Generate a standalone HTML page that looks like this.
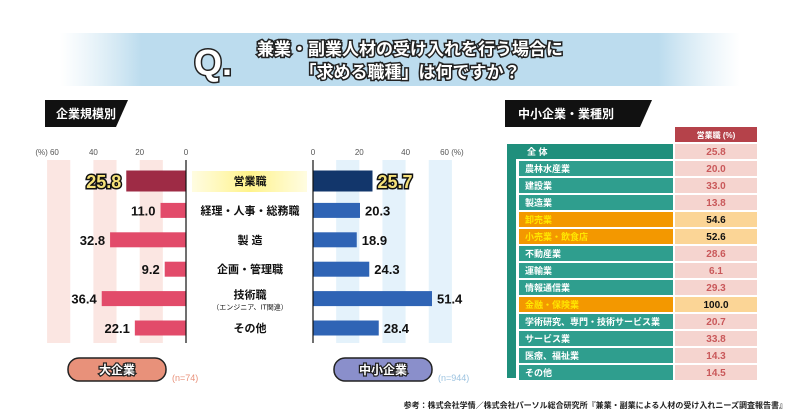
<!DOCTYPE html>
<html><head><meta charset="utf-8">
<style>
body{margin:0;width:800px;height:419px;background:#fff;overflow:hidden;font-family:"Liberation Sans","Noto Sans CJK JP",sans-serif;}
svg{display:block}
</style></head><body>
<svg width="800" height="419" viewBox="0 0 800 419">
<defs>
<linearGradient id="ban" x1="0" x2="1" y1="0" y2="0">
<stop offset="0" stop-color="#cfe6f2" stop-opacity="0"/><stop offset="0.12" stop-color="#bcdcee"/><stop offset="0.88" stop-color="#bcdcee"/><stop offset="1" stop-color="#cfe6f2" stop-opacity="0"/></linearGradient>
<linearGradient id="yel" x1="0" x2="1"><stop offset="0" stop-color="#fff59a" stop-opacity="0.3"/><stop offset="0.5" stop-color="#fff38a"/><stop offset="1" stop-color="#fff59a" stop-opacity="0.3"/></linearGradient>
</defs>
<rect x="60" y="33" width="680" height="53" fill="url(#ban)"/>
<text x="213" y="75" font-size="36" font-weight="bold" fill="#fff" stroke="#222" stroke-width="3" paint-order="stroke" text-anchor="middle">Q.</text>
<text x="410" y="55" font-size="17" font-weight="bold" fill="#fff" stroke="#222" stroke-width="3" paint-order="stroke" text-anchor="middle">兼業・副業人材の受け入れを行う場合に</text>
<text x="410" y="78" font-size="17" font-weight="bold" fill="#fff" stroke="#222" stroke-width="3" paint-order="stroke" text-anchor="middle">「求める職種」は何ですか？</text>
<polygon points="45,100 128,100 116,127 45,127" fill="#111"/>
<text x="56" y="118" font-size="12" font-weight="bold" fill="#fff">企業規模別</text>
<polygon points="505,100 652,100 640,127 505,127" fill="#111"/>
<text x="518" y="118" font-size="12" font-weight="bold" fill="#fff">中小企業・業種別</text>
<g id="chart"></g>
<g id="table"></g>
<text x="787" y="408" font-size="8" font-weight="bold" fill="#222" text-anchor="end">参考：株式会社学情／株式会社パーソル総合研究所『兼業・副業による人材の受け入れニーズ調査報告書』</text>
</svg>
<script>
const categories=["営業職","経理・人事・総務職","製 造","企画・管理職","技術職","その他"];
const largeValues=[25.8,11.0,32.8,9.2,36.4,22.1];
const smeValues=[25.7,20.3,18.9,24.3,51.4,28.4];
const ticks=[0,20,40,60];
const industries=["全 体","農林水産業","建設業","製造業","卸売業","小売業・飲食店","不動産業","運輸業","情報通信業","金融・保険業","学術研究、専門・技術サービス業","サービス業","医療、福祉業","その他"];
const industryValues=["25.8","20.0","33.0","13.8","54.6","52.6","28.6","6.1","29.3","100.0","20.7","33.8","14.3","14.5"];
const highlighted=[false,false,false,false,true,true,false,false,false,true,false,false,false,false];

const NS="http://www.w3.org/2000/svg";
function mk(tag,attrs,parent,txt){const e=document.createElementNS(NS,tag);for(const k in attrs)e.setAttribute(k,attrs[k]);if(txt!==undefined)e.textContent=txt;parent.appendChild(e);return e;}
const g=document.getElementById('chart');
const k=46.3/20;
const xL=v=>186-v*k, xR=v=>313+v*k;
const rowY=i=>181+i*29.4;
[[10,20],[30,40],[50,60]].forEach(s=>{
 const a=mk('rect',{x:xL(s[1]),y:160,width:(s[1]-s[0])*k,height:183,fill:'#fbe6e2'},g);
 
 
 const b=mk('rect',{x:xR(s[0]),y:160,width:(s[1]-s[0])*k,height:183,fill:'#e4f2fb'},g);
 
 
});
ticks.forEach(t=>{
 const a=mk('text',{x:xL(t),y:155,'font-size':8,fill:'#555','text-anchor':'middle'},g,(t===60?'(%) ':'')+t);
 
 
 const b=mk('text',{x:xR(t),y:155,'font-size':8,fill:'#555','text-anchor':'middle'},g,t+(t===60?' (%)':''));
 
 
});
const hl=mk('rect',{x:192,y:171,width:115,height:21,fill:'url(#yel)'},g);


categories.forEach((c,i)=>{
 const cy=rowY(i), big=i===0, h=big?21:15;
 const lb=mk('rect',{x:xL(largeValues[i]),y:cy-h/2,width:largeValues[i]*k,height:h,fill:big?'#9e2b45':'#e24b6a'},g);
 
 
 const sb=mk('rect',{x:313,y:cy-h/2,width:smeValues[i]*k,height:h,fill:big?'#12366b':'#2f64b5'},g);
 
 
 const attrsBig={'font-size':18,'font-weight':'bold',fill:'#f6e27a',stroke:'#111','stroke-width':3,'paint-order':'stroke'};
 const attrsN={'font-size':13,'font-weight':'bold',fill:'#111'};
 const la=mk('text',Object.assign({x:xL(largeValues[i])-5,y:cy+(big?7:5),'text-anchor':'end'},big?attrsBig:attrsN),g,largeValues[i].toFixed(1));
 
 
 const ra=mk('text',Object.assign({x:xR(smeValues[i])+5,y:cy+(big?7:5),'text-anchor':'start'},big?attrsBig:attrsN),g,smeValues[i].toFixed(1));
 
 
 const ct=mk('text',{x:250,y:cy+(i===4?0:4),'font-size':11,'font-weight':'bold',fill:'#111','text-anchor':'middle'},g,c);
 
 
 if(i===4){const s=mk('text',{x:250,y:cy+11,'font-size':7,fill:'#111','text-anchor':'middle'},g,'（エンジニア、IT関連）');
 
 }
});
const ax1=mk('line',{x1:186,x2:186,y1:160,y2:343,stroke:'#111','stroke-width':1.2},g);


const ax2=mk('line',{x1:313,x2:313,y1:160,y2:343,stroke:'#111','stroke-width':1.2},g);


const b1=mk('rect',{x:68,y:358,width:98,height:23,rx:11,fill:'#e8917a',stroke:'#222','stroke-width':1.5},g);


const t1=mk('text',{x:117,y:374,'font-size':12,'font-weight':'bold',fill:'#fff',stroke:'#222','stroke-width':2.5,'paint-order':'stroke','text-anchor':'middle'},g,'大企業');


const n1=mk('text',{x:172,y:381,'font-size':9,fill:'#e8917a'},g,'(n=74)');


const b2=mk('rect',{x:334,y:358,width:98,height:23,rx:11,fill:'#8a8fcb',stroke:'#222','stroke-width':1.5},g);


const t2=mk('text',{x:383,y:374,'font-size':12,'font-weight':'bold',fill:'#fff',stroke:'#222','stroke-width':2.5,'paint-order':'stroke','text-anchor':'middle'},g,'中小企業');


const n2=mk('text',{x:438,y:381,'font-size':9,fill:'#9cc3e0'},g,'(n=944)');



const tg=document.getElementById('table');
const hc=mk('rect',{x:675,y:127,width:82,height:15,fill:'#b5424a'},tg);


const ht=mk('text',{x:716,y:138,'font-size':8,'font-weight':'bold',fill:'#fff','text-anchor':'middle'},tg,'営業職 (%)');


const vs=mk('rect',{x:507,y:144,width:9,height:234,fill:'#1f8f7c'},tg);


industries.forEach((name,i)=>{
 const y=144+i*17, x0=i===0?507:519;
 const r=mk('rect',{x:x0,y:y,width:673-x0,height:15,fill:highlighted[i]?'#f39800':(i===0?'#1f8f7c':'#2f9e8e')},tg);
 
 
 const t=mk('text',{x:i===0?527:525,y:y+11,'font-size':9,'font-weight':'bold',fill:highlighted[i]?'#ffe600':'#fff'},tg,name);
 
 
 const v=mk('rect',{x:675,y:y,width:82,height:15,fill:highlighted[i]?'#fbd596':'#f5d4cf'},tg);
 
 
 const vt=mk('text',{x:716,y:y+11,'font-size':10,'font-weight':'bold',fill:highlighted[i]?'#111':'#c9585a','text-anchor':'middle'},tg,industryValues[i]);
 
 
});
</script>
</body></html>
